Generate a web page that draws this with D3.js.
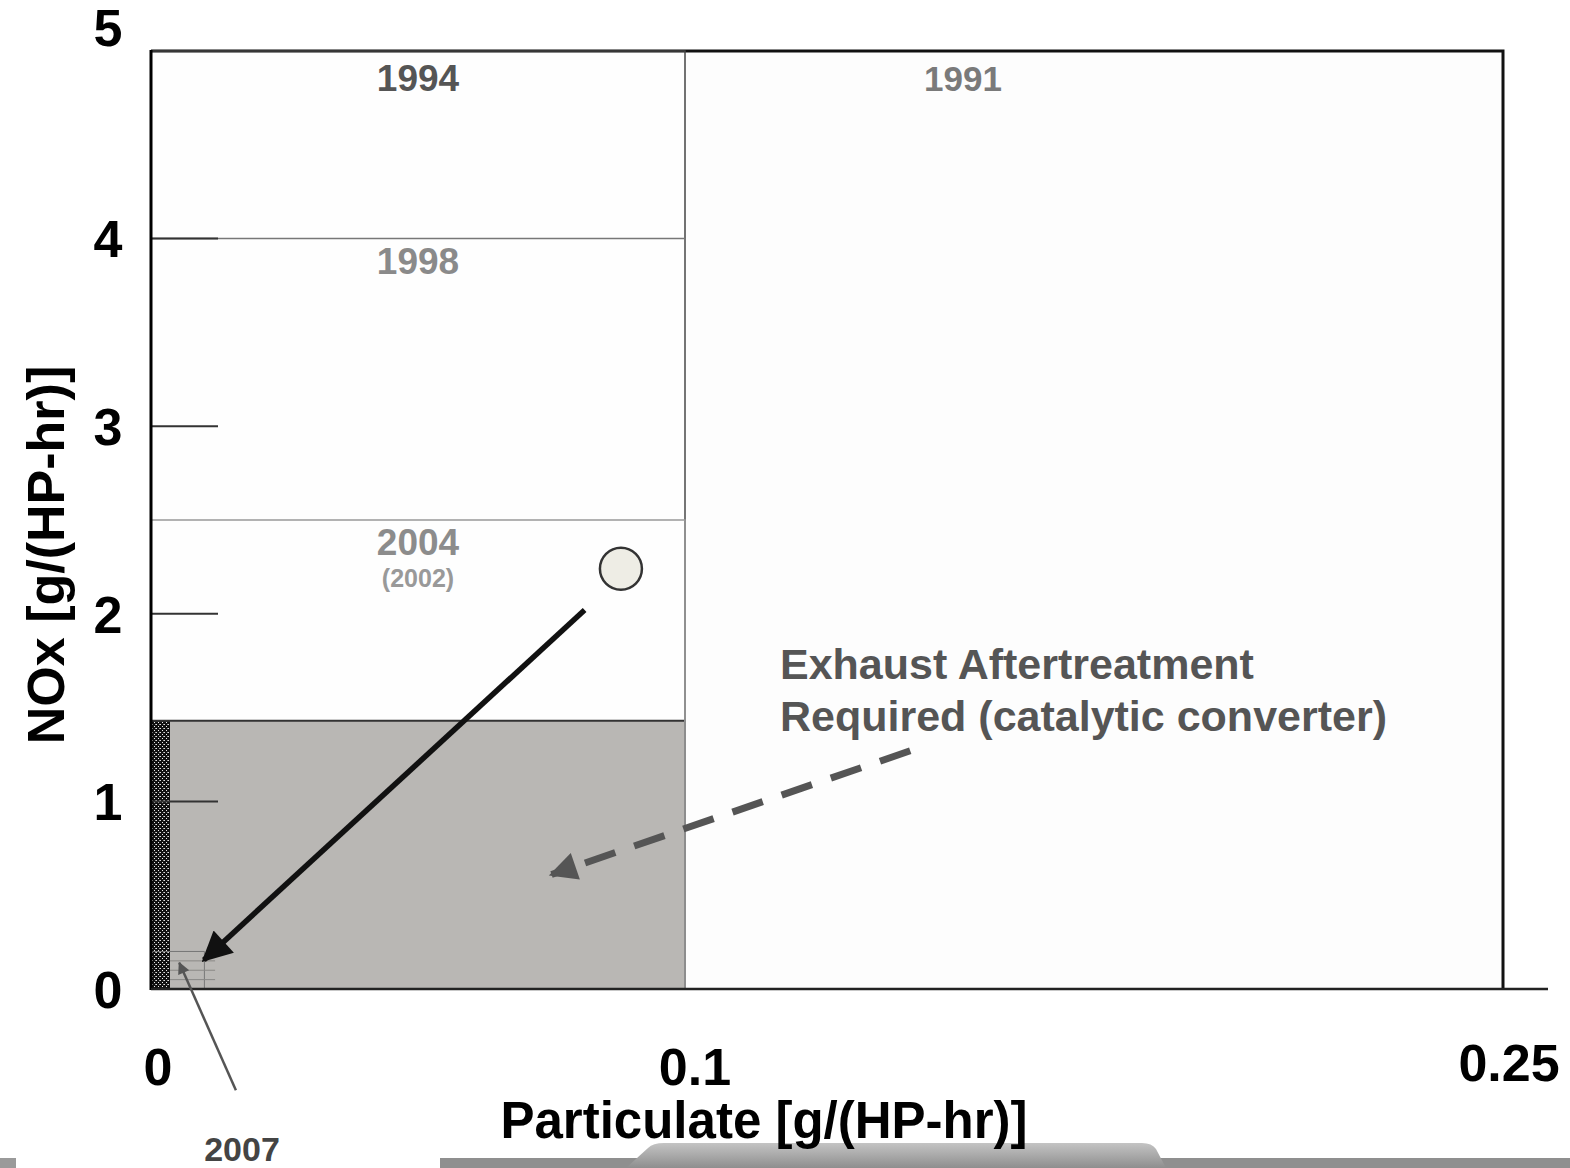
<!DOCTYPE html>
<html>
<head>
<meta charset="utf-8">
<script src="https://cdn.jsdelivr.net/npm/d3@7"></script>
<style>
  body { margin: 0; background: #ffffff; }
  svg { display: block; font-family: "Liberation Sans", Arial, sans-serif; }
</style>
</head>
<body>
<div id="chart"></div>
<script>
// emission standards (boxes drawn from the origin)
var years = ["1991", "1994", "1998", "2004", "2007"];
var pmLimit = [0.25, 0.1, 0.1, 0.1, 0.01];
var noxLimit = [5, 5, 4, 2.5, 0.2];

// region that needs aftertreatment
var shadePM = 0.1;
var shadeNOx = 1.43;

// typical engine point
var enginePM = [0.088];
var engineNOx = [2.24];

var yTicks = [0, 1, 2, 3, 4, 5];
var xTicks = [0, 0.1, 0.25];
var xTickLabels = ["0", "0.1", "0.25"];

var width = 1570, height = 1168;

var svg = d3.select("#chart").append("svg")
  .attr("width", width)
  .attr("height", height);

// the figure is not drawn to scale on x, so piecewise
var x = d3.scaleLinear().domain([0, 0.1, 0.25]).range([151, 685, 1503]);
var y = d3.scaleLinear().domain([0, 5]).range([989, 51]);

var defs = svg.append("defs");

// dithered strip on the left edge of shaded box
var pat = defs.append("pattern")
  .attr("id", "dither").attr("width", 4).attr("height", 4)
  .attr("patternUnits", "userSpaceOnUse");
pat.append("rect").attr("width", 4).attr("height", 4).attr("fill", "#111");
pat.append("rect").attr("x", 0).attr("y", 0).attr("width", 1).attr("height", 1).attr("fill", "#ddd");
pat.append("rect").attr("x", 2).attr("y", 2).attr("width", 1).attr("height", 1).attr("fill", "#eee");
pat.append("rect").attr("x", 3).attr("y", 0).attr("width", 1).attr("height", 1).attr("fill", "#999");

var grad = defs.append("linearGradient").attr("id", "band")
  .attr("x1", 0).attr("y1", 0).attr("x2", 0).attr("y2", 1);
grad.append("stop").attr("offset", "0%").attr("stop-color", "#c4c4c4");
grad.append("stop").attr("offset", "100%").attr("stop-color", "#8e8e8e");

function marker(id, color, len, wid) {
  defs.append("marker")
    .attr("id", id)
    .attr("markerUnits", "userSpaceOnUse")
    .attr("viewBox", "0 0 10 10")
    .attr("refX", 9).attr("refY", 5)
    .attr("markerWidth", len).attr("markerHeight", wid)
    .attr("orient", "auto")
    .append("path")
    .attr("d", "M0,0 L10,5 L0,10 z")
    .attr("fill", color);
}
marker("headBlack", "#111", 34, 30);
marker("headGray", "#555", 30, 28);
marker("headThin", "#555", 16, 12);

// bottom slide band
svg.append("rect").attr("x", 0).attr("y", 1158).attr("width", 16).attr("height", 10).attr("fill", "#9a9a9a");
svg.append("rect").attr("x", 440).attr("y", 1158).attr("width", 1130).attr("height", 10).attr("fill", "#8f8f8f");
svg.append("path")
  .attr("d", "M626,1168 L648,1148 Q653,1143 664,1143 L1142,1143 Q1152,1143 1156,1149 L1166,1168 Z")
  .attr("fill", "url(#band)");

// boxes
var boxes = years.map(function(yr, i) { return { year: yr, pm: pmLimit[i], nox: noxLimit[i] }; });

var lineStyle = {
  "1991": { stroke: "#111", w: 3 },
  "1994": { stroke: "#444", w: 1.5 },
  "1998": { stroke: "#777", w: 1.5 },
  "2004": { stroke: "#999", w: 1.5 },
  "2007": { stroke: "#777", w: 1 }
};

svg.append("g").selectAll("rect.box")
  .data(boxes.slice(0, 4))
  .enter().append("rect")
  .attr("class", "box")
  .attr("x", x(0))
  .attr("y", function(d) { return y(d.nox); })
  .attr("width", function(d) { return x(d.pm) - x(0); })
  .attr("height", function(d) { return y(0) - y(d.nox); })
  .attr("fill", function(d, i) { return i == 0 ? "#fdfdfd" : "#fefefe"; });

// shaded region
svg.append("rect")
  .attr("x", x(0)).attr("y", y(shadeNOx))
  .attr("width", x(shadePM) - x(0)).attr("height", y(0) - y(shadeNOx))
  .attr("fill", "#b9b7b4");
svg.append("rect")
  .attr("x", x(0)).attr("y", y(shadeNOx))
  .attr("width", 19).attr("height", y(0) - y(shadeNOx))
  .attr("fill", "url(#dither)");
svg.append("path")
  .attr("d", "M" + x(0) + "," + y(shadeNOx) + "H" + x(shadePM) + "V" + y(0))
  .attr("fill", "none").attr("stroke", "#333").attr("stroke-width", 2);

// box outlines (top and right edges)
svg.append("g").selectAll("path.edge")
  .data(boxes)
  .enter().append("path")
  .attr("class", "edge")
  .attr("d", function(d) { return "M" + x(0) + "," + y(d.nox) + "H" + x(d.pm) + "V" + y(0); })
  .attr("fill", "none")
  .attr("stroke", function(d) { return lineStyle[d.year].stroke; })
  .attr("stroke-width", function(d) { return lineStyle[d.year].w; });

// little lines inside the 2007 box
[0.05, 0.1, 0.15].forEach(function(v) {
  svg.append("line")
    .attr("x1", x(0) + 19).attr("x2", x(0.012))
    .attr("y1", y(v)).attr("y2", y(v))
    .attr("stroke", "#8a8886").attr("stroke-width", 1);
});

// y ticks (short lines inside the plot)
svg.append("g").selectAll("line.ytick")
  .data(yTicks.slice(1, 5))
  .enter().append("line")
  .attr("x1", x(0)).attr("x2", x(0) + 67)
  .attr("y1", function(d) { return y(d); })
  .attr("y2", function(d) { return y(d); })
  .attr("stroke", "#333").attr("stroke-width", 2);

// axes frame
svg.append("line").attr("x1", x(0)).attr("x2", x(0)).attr("y1", y(5) - 1).attr("y2", y(0) + 1)
  .attr("stroke", "#000").attr("stroke-width", 3);
svg.append("line").attr("x1", x(0)).attr("x2", 1548).attr("y1", y(0)).attr("y2", y(0))
  .attr("stroke", "#222").attr("stroke-width", 2.5);

// y tick labels
svg.append("g").selectAll("text.ylab")
  .data(yTicks)
  .enter().append("text")
  .attr("x", 108)
  .attr("y", function(d) { return d == 5 ? y(d) - 24 : y(d); })
  .attr("dy", "0.36em")
  .attr("text-anchor", "middle")
  .attr("font-size", 52).attr("font-weight", "bold").attr("fill", "#000")
  .text(function(d) { return d; });

// x tick labels
svg.append("g").selectAll("text.xlab")
  .data(xTicks)
  .enter().append("text")
  .attr("x", function(d, i) { return x(d) + [7, 10, 6][i]; })
  .attr("y", function(d, i) { return i == 2 ? 1081 : 1085; })
  .attr("text-anchor", "middle")
  .attr("font-size", 52).attr("font-weight", "bold").attr("fill", "#000")
  .text(function(d, i) { return xTickLabels[i]; });

// axis titles
svg.append("text")
  .attr("x", 764).attr("y", 1138)
  .attr("text-anchor", "middle")
  .attr("font-size", 51).attr("font-weight", "bold").attr("fill", "#000")
  .text("Particulate [g/(HP-hr)]");

svg.append("text")
  .attr("transform", "translate(64,555) rotate(-90)")
  .attr("text-anchor", "middle")
  .attr("font-size", 52).attr("font-weight", "bold").attr("fill", "#000")
  .text("NOx [g/(HP-hr)]");

// year labels
var labelColor = { "1991": "#7a7a7a", "1994": "#555", "1998": "#8a8a8a", "2004": "#8c8c8c" };
svg.append("g").selectAll("text.year")
  .data(boxes.slice(0, 4))
  .enter().append("text")
  .attr("x", function(d) { return d.year == "1991" ? 963 : x(0.05); })
  .attr("y", function(d) { return y(d.nox) + (d.year == "1991" || d.year == "1994" ? 40 : 35); })
  .attr("text-anchor", "middle")
  .attr("font-size", function(d) { return d.year == "1991" ? 35 : 37; })
  .attr("font-weight", "bold")
  .attr("fill", function(d) { return labelColor[d.year]; })
  .text(function(d) { return d.year; });

svg.append("text")
  .attr("x", x(0.05)).attr("y", y(2.5) + 67)
  .attr("text-anchor", "middle")
  .attr("font-size", 25).attr("font-weight", "bold").attr("fill", "#999")
  .text("(2002)");

svg.append("text")
  .attr("x", 242).attr("y", 1161)
  .attr("text-anchor", "middle")
  .attr("font-size", 34).attr("font-weight", "bold").attr("fill", "#444")
  .text("2007");

// annotation text
var note = svg.append("text")
  .attr("font-size", 43).attr("font-weight", "bold").attr("fill", "#555");
note.append("tspan").attr("x", 780).attr("y", 679).text("Exhaust Aftertreatment");
note.append("tspan").attr("x", 780).attr("y", 731).text("Required (catalytic converter)");

// arrows
svg.append("line")
  .attr("x1", x(0.0812)).attr("y1", y(2.02))
  .attr("x2", x(0.0099)).attr("y2", y(0.155))
  .attr("stroke", "#111").attr("stroke-width", 5.5)
  .attr("marker-end", "url(#headBlack)");

svg.append("line")
  .attr("x1", x(0.1413)).attr("y1", y(1.27))
  .attr("x2", x(0.075)).attr("y2", y(0.61))
  .attr("stroke", "#555").attr("stroke-width", 7)
  .attr("stroke-dasharray", "32,20")
  .attr("marker-end", "url(#headGray)");

svg.append("line")
  .attr("x1", x(0.0159)).attr("y1", y(-0.54))
  .attr("x2", x(0.0053)).attr("y2", y(0.14))
  .attr("stroke", "#555").attr("stroke-width", 2.5)
  .attr("marker-end", "url(#headThin)");

// engine point
svg.append("g").selectAll("circle")
  .data(enginePM)
  .enter().append("circle")
  .attr("cx", function(d) { return x(d); })
  .attr("cy", function(d, i) { return y(engineNOx[i]); })
  .attr("r", 21)
  .attr("fill", "#eeede5")
  .attr("stroke", "#333").attr("stroke-width", 2.5);
</script>
</body>
</html>
